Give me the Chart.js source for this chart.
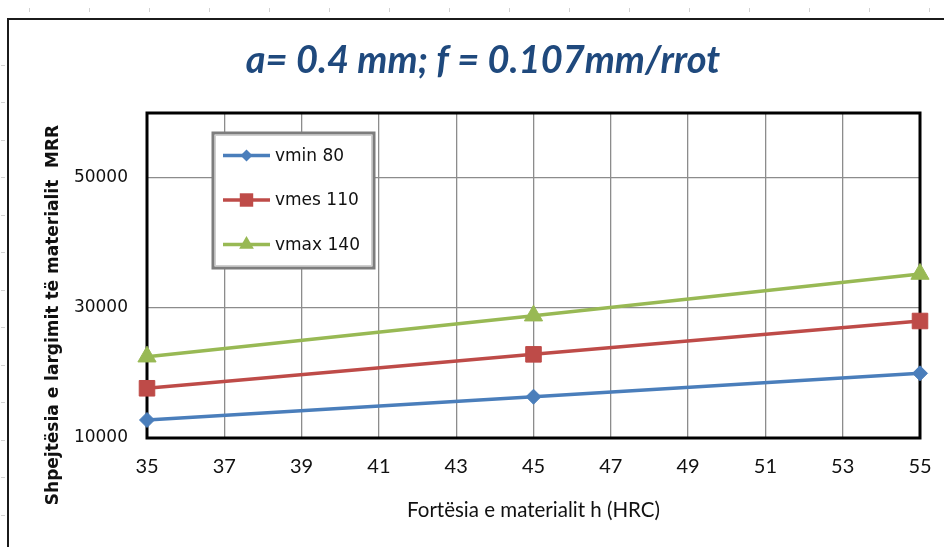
<!DOCTYPE html>
<html>
<head>
<meta charset="utf-8">
<title>MRR vs HRC</title>
<script src="https://cdn.jsdelivr.net/npm/chart.js@4/dist/chart.umd.min.js"></script>
<style>
  html, body { margin: 0; padding: 0; background: #fff; }
  #wrap { position: relative; width: 944px; height: 547px; overflow: hidden; background: #fff; }
  #frame { position: absolute; left: 7px; top: 18px; width: 1000px; height: 600px;
           border-left: 2px solid #1b1b1b; border-top: 2px solid #1b1b1b; }
  #marksTop { position: absolute; left: 0; top: 8px; width: 944px; height: 4px;
              background: repeating-linear-gradient(to right, transparent 0 29.5px, #d2d2d2 29.5px 30.5px, transparent 30.5px 60px); }
  #marksLeft { position: absolute; left: 1px; top: 10px; width: 4px; height: 537px;
               background: repeating-linear-gradient(to bottom, transparent 0 17.5px, #d2d2d2 17.5px 18.5px, transparent 18.5px 37.5px); }
  canvas { position: absolute; left: 0; top: 0; }
</style>
</head>
<body>
<div id="wrap">
  <div id="marksTop"></div>
  <div id="marksLeft"></div>
  <div id="frame"></div>
  <canvas id="c" width="944" height="547"></canvas>
</div>
<script>
// Hardness values (HRC) at which the removal rate was measured
const hardness = [35, 45, 55];

// Material removal rate MRR for each cutting speed
const vMin80  = [12770, 16350, 19950];
const vMes110 = [17650, 22870, 28000];
const vMax140 = [22510, 28820, 35230];

const seriesNames = ['vmin 80', 'vmes 110', 'vmax 140'];

// Axis ticks
const xTicks = [35, 37, 39, 41, 43, 45, 47, 49, 51, 53, 55];
const yTicks = [10000, 30000, 50000];

const chartTitle = 'a= 0.4 mm; f = 0.107mm/rrot';
const xTitle = 'Fortësia e materialit h (HRC)';
const yTitle = 'Shpejtësia e largimit të materialit  MRR';

const toPoints = (vals) => vals.map((v, i) => ({ x: hardness[i], y: v }));

const styles = [
  { color: '#4A7EBB', pointStyle: 'rectRot', radius: 7.5, legendRadius: 6 },
  { color: '#BE4B48', pointStyle: 'rect', radius: 11, legendRadius: 9.5 },
  { color: '#98B954', pointStyle: 'triangle', radius: 10.5, legendRadius: 8.5 }
];

const seriesValues = [vMin80, vMes110, vMax140];

const datasets = seriesValues.map((vals, i) => ({
  label: seriesNames[i],
  data: toPoints(vals),
  borderColor: styles[i].color,
  backgroundColor: styles[i].color,
  pointBackgroundColor: styles[i].color,
  pointBorderColor: styles[i].color,
  pointStyle: styles[i].pointStyle,
  pointRadius: styles[i].radius,
  pointBorderWidth: 1,
  borderWidth: 3.5,
  tension: 0,
  clip: false
}));

const FONT_NARROW = 'Lato, "Open Sans", sans-serif';
const FONT_WIDE = '"DejaVu Sans", Verdana, sans-serif';

// Heading, rotated y-axis caption, plot frame and the boxed legend
const decorations = {
  id: 'decorations',
  beforeDatasetsDraw(chart) {
    const { ctx, chartArea: a } = chart;
    ctx.save();
    ctx.strokeStyle = '#000';
    ctx.lineWidth = 3;
    ctx.strokeRect(a.left, a.top, a.right - a.left, a.bottom - a.top);
    ctx.restore();
  },
  afterDraw(chart) {
    const { ctx } = chart;
    ctx.save();

    // chart heading
    ctx.fillStyle = '#1F497D';
    ctx.font = 'italic bold 38px ' + FONT_NARROW;
    ctx.textAlign = 'center';
    ctx.textBaseline = 'alphabetic';
    ctx.fillText(chartTitle, 483, 73);

    // vertical axis caption
    ctx.save();
    ctx.translate(58, 315);
    ctx.rotate(-Math.PI / 2);
    ctx.fillStyle = '#111';
    ctx.font = 'bold 17px ' + FONT_WIDE;
    ctx.textAlign = 'center';
    ctx.textBaseline = 'alphabetic';
    ctx.fillText(yTitle, 0, 0);
    ctx.restore();

    // legend box
    const bx = 213, by = 133, bw = 161, bh = 135;
    ctx.fillStyle = '#fff';
    ctx.fillRect(bx, by, bw, bh);
    ctx.strokeStyle = '#7d7d7d';
    ctx.lineWidth = 3;
    ctx.strokeRect(bx, by, bw, bh);
    ctx.strokeStyle = '#cfcfcf';
    ctx.lineWidth = 1;
    ctx.strokeRect(bx + 2.5, by + 2.5, bw - 5, bh - 5);

    chart.data.datasets.forEach((ds, i) => {
      const y = 155.5 + i * 44.5;
      ctx.strokeStyle = ds.borderColor;
      ctx.lineWidth = 3.5;
      ctx.beginPath();
      ctx.moveTo(223, y);
      ctx.lineTo(270, y);
      ctx.stroke();
      ctx.fillStyle = ds.borderColor;
      Chart.helpers.drawPoint(ctx, {
        pointStyle: ds.pointStyle,
        radius: styles[i].legendRadius,
        rotation: 0,
        borderWidth: 0
      }, 246.5, y);
      ctx.fillStyle = '#111';
      ctx.font = '17px ' + FONT_WIDE;
      ctx.textAlign = 'left';
      ctx.textBaseline = 'middle';
      ctx.fillText(ds.label, 275, y + 1);
    });
    ctx.restore();
  }
};

new Chart(document.getElementById('c'), {
  type: 'line',
  data: { datasets },
  options: {
    responsive: false,
    devicePixelRatio: 1,
    animation: false,
    events: [],
    layout: { padding: { left: 0, top: 113, right: 24, bottom: 0 } },
    plugins: {
      legend: { display: false },
      title: { display: false },
      tooltip: { enabled: false }
    },
    scales: {
      x: {
        type: 'linear',
        min: 35,
        max: 55,
        afterFit(scale) {
          scale.height = 109;
          scale.paddingLeft = 0;
          scale.paddingRight = 0;
        },
        afterBuildTicks(scale) { scale.ticks = xTicks.map(v => ({ value: v })); },
        grid: { color: '#8c8c8c', lineWidth: 1.3, drawTicks: false },
        border: { display: false },
        ticks: {
          padding: 17,
          color: '#111',
          font: { family: FONT_NARROW, size: 20 },
          maxRotation: 0
        },
        title: {
          display: true,
          text: xTitle,
          color: '#111',
          font: { family: FONT_NARROW, size: 20.5 },
          padding: { top: 0, bottom: 24 }
        }
      },
      y: {
        type: 'linear',
        min: 10000,
        max: 60000,
        afterFit(scale) {
          scale.width = 147;
          scale.paddingTop = 0;
          scale.paddingBottom = 0;
        },
        afterBuildTicks(scale) { scale.ticks = yTicks.map(v => ({ value: v })); },
        grid: { color: '#8c8c8c', lineWidth: 1.3, drawTicks: false },
        border: { display: false },
        ticks: {
          padding: 19,
          color: '#111',
          font: { family: FONT_WIDE, size: 17 },
          callback: (v) => String(v)
        }
      }
    }
  },
  plugins: [decorations]
});
</script>
</body>
</html>
